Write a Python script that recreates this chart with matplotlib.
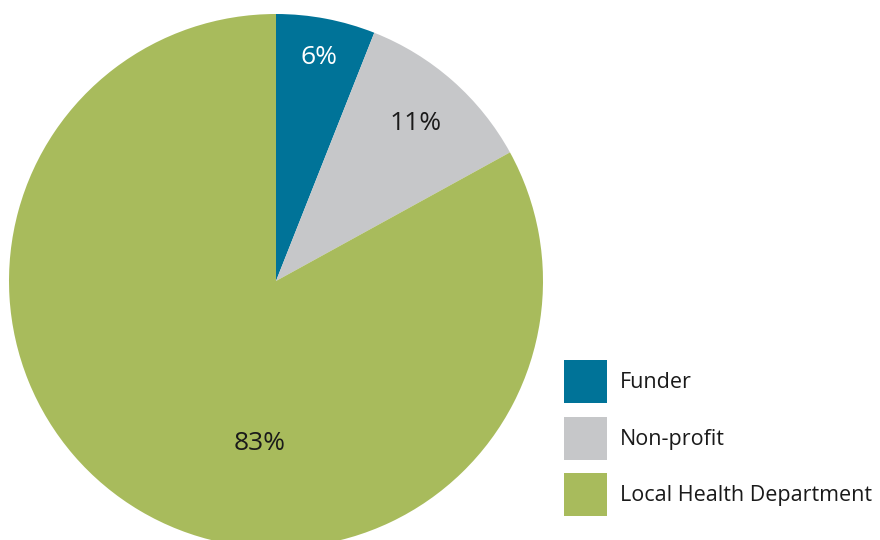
import matplotlib.pyplot as plt

categories = ["Funder", "Non-profit", "Local Health Department"]
shares = [6, 11, 83]
colors = ["#007398", "#c6c7c9", "#a8bb5c"]
text_colors = ["white", "#1a1a1a", "#1a1a1a"]

# label centres in pixels (x, y from top)
label_xy = [(319, 58), (416, 123), (260, 443)]

plt.rcParams['font.family'] = ['Open Sans', 'DejaVu Sans']

fig = plt.figure(figsize=(8.8, 5.4), dpi=100)
ax = fig.add_axes([0, 0, 1, 1])

wedges, _ = ax.pie(shares, colors=colors, startangle=90, counterclock=False,
                   center=(276, 259), radius=267, frame=True,
                   wedgeprops=dict(linewidth=0))
ax.set_xlim(0, 880)
ax.set_ylim(0, 540)
ax.set_aspect('equal')
ax.axis('off')

for val, (x, y), c in zip(shares, label_xy, text_colors):
    ax.text(x, 540 - y, f"{val}%", color=c, fontsize=19,
            ha='center', va='center')

leg = ax.legend(wedges, categories, loc='upper left',
                bbox_to_anchor=(564 / 880, 1 - 360 / 540),
                frameon=False, fontsize=15.5, borderpad=0, borderaxespad=0,
                handlelength=2.0, handleheight=2.7, labelspacing=0.63,
                handletextpad=0.6)
for t in leg.get_texts():
    t.set_color("#1a1a1a")

fig.savefig("out.png", dpi=100)
